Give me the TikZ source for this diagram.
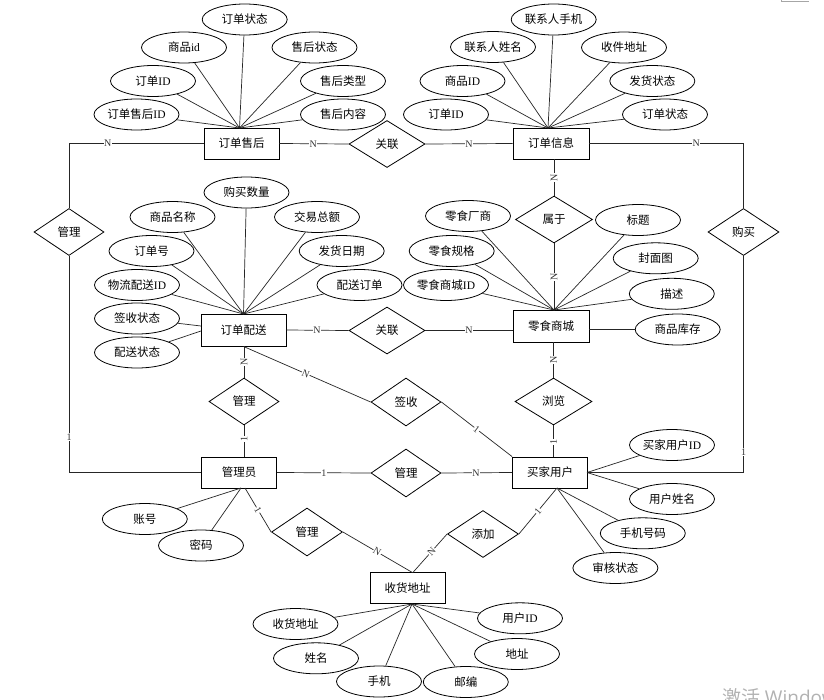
\documentclass[tikz,border=0pt]{standalone}
\usepackage{fontspec}
\setmainfont{Liberation Serif}
\newfontfamily\cjk{Noto Sans CJK SC}
\newfontfamily\wmfont{Open Sans}
\usetikzlibrary{shapes.geometric}
\newcommand\lat[1]{{\rmfamily #1}}
\begin{document}
\begin{tikzpicture}[x=1pt,y=-1pt,
  zh/.style={font=\cjk\fontsize{11.5}{13}\selectfont},
  attr/.style={zh,ellipse,draw=black,line width=0.8pt,inner sep=0pt,minimum width=85pt,minimum height=31pt},
  ent/.style={zh,rectangle,draw=black,line width=0.9pt,inner sep=0pt,minimum width=75pt,minimum height=31pt},
  rel/.style={zh,diamond,draw=black,line width=0.8pt,inner sep=0pt,minimum width=71pt,minimum height=47pt},
  conn/.style={draw=black!85,line width=0.7pt},
  card/.style={fill=white,inner sep=0.5pt,text=black!80,font=\rmfamily\fontsize{10}{10}\selectfont}
]
\clip (0,0) rectangle (824,699);
\fill[white] (0,0) rectangle (824,699);

% entities
\node[ent] (sh) at (241.5,143.5) {订单售后};
\node[ent,minimum width=76pt] (xx) at (551,143.5) {订单信息};
\node[ent,minimum width=85pt,minimum height=32pt] (ps) at (243.5,330) {订单配送};
\node[ent,minimum width=76pt,minimum height=32pt] (sc) at (551,326) {零食商城};
\node[ent] (gl) at (239,472.5) {管理员};
\node[ent] (mj) at (550,472.5) {买家用户};
\node[ent] (dz) at (407.5,588) {收货地址};

% relationships
\node[rel,minimum width=76pt] (r1) at (387,144) {关联};
\node[rel,minimum width=70pt] (r2) at (69,232) {管理};
\node[rel,minimum width=77pt] (r3) at (554,219.5) {属于};
\node[rel] (r4) at (743.5,232) {购买};
\node[rel,minimum width=76pt] (r5) at (387,330.5) {关联};
\node[rel,minimum width=70pt] (r6) at (244,401.5) {管理};
\node[rel,minimum width=70pt,minimum height=48pt] (r7) at (406,402) {签收};
\node[rel,minimum width=77pt] (r8) at (553.5,401.5) {浏览};
\node[rel,minimum width=70pt,minimum height=48pt] (r9) at (406,473) {管理};
\node[rel,minimum height=48pt] (r10) at (307,532) {管理};
\node[rel] (r11) at (483,534) {添加};

% attributes of 订单售后
\node[attr] (a11) at (244.7,19.5) {订单状态};
\node[attr] (a12) at (184,47.5) {商品\lat{id}};
\node[attr] (a13) at (314.5,47.5) {售后状态};
\node[attr] (a14) at (153,81) {订单\lat{ID}};
\node[attr] (a15) at (343,81) {售后类型};
\node[attr] (a16) at (136.5,114.5) {订单售后\lat{ID}};
\node[attr] (a17) at (343,114.5) {售后内容};
% attributes of 订单信息
\node[attr] (a21) at (553.7,19.5) {联系人手机};
\node[attr] (a22) at (493,47) {联系人姓名};
\node[attr] (a23) at (624,47.5) {收件地址};
\node[attr] (a24) at (462.5,81) {商品\lat{ID}};
\node[attr] (a25) at (652.3,81) {发货状态};
\node[attr] (a26) at (446,114.5) {订单\lat{ID}};
\node[attr] (a27) at (665,114.5) {订单状态};
% attributes of 订单配送
\node[attr] (a31) at (246.5,192.5) {购买数量};
\node[attr] (a32) at (172.5,217) {商品名称};
\node[attr] (a33) at (317,217) {交易总额};
\node[attr] (a34) at (151.5,251) {订单号};
\node[attr] (a35) at (341.7,251) {发货日期};
\node[attr] (a36) at (137,285) {物流配送\lat{ID}};
\node[attr] (a37) at (359.5,285) {配送订单};
\node[attr] (a38) at (137,318.5) {签收状态};
\node[attr] (a39) at (137,352.5) {配送状态};
% attributes of 零食商城
\node[attr] (a41) at (468,216) {零食厂商};
\node[attr] (a42) at (638,220) {标题};
\node[attr] (a43) at (451.7,251) {零食规格};
\node[attr] (a44) at (655.7,258.3) {封面图};
\node[attr] (a45) at (446,285) {零食商城\lat{ID}};
\node[attr] (a46) at (671.8,293.8) {描述};
\node[attr] (a47) at (677.7,329.5) {商品库存};
% attributes of 管理员
\node[attr] (a51) at (144.8,519) {账号};
\node[attr] (a52) at (201,545.5) {密码};
% attributes of 买家用户
\node[attr] (a61) at (672,445) {买家用户\lat{ID}};
\node[attr] (a62) at (672,499) {用户姓名};
\node[attr] (a63) at (642.8,533.3) {手机号码};
\node[attr] (a64) at (615.4,568) {审核状态};
% attributes of 收货地址
\node[attr] (a71) at (295.5,624) {收货地址};
\node[attr] (a72) at (520,618.3) {用户\lat{ID}};
\node[attr] (a73) at (316,658.3) {姓名};
\node[attr] (a74) at (517,654) {地址};
\node[attr] (a75) at (379,681.5) {手机};
\node[attr] (a76) at (465.8,682) {邮编};

% convergence points
\coordinate (p1) at (239.5,128);
\coordinate (p2) at (548,128);
\coordinate (p3) at (243.5,314);
\coordinate (p4) at (554,310);
\coordinate (p5) at (241,488);
\coordinate (p5b) at (245,488);
\coordinate (p6r) at (587,472.5);
\coordinate (p6b) at (557,488);
\coordinate (p7) at (412,604);
\coordinate (q1) at (201,326);
\coordinate (q2) at (201,331);

% attribute lines
\foreach \a in {a11,a12,a13,a14,a15,a16,a17} \draw[conn] (\a) -- (p1);
\foreach \a in {a21,a22,a23,a24,a25,a26,a27} \draw[conn] (\a) -- (p2);
\foreach \a in {a31,a32,a33,a34,a35,a36,a37} \draw[conn] (\a) -- (p3);
\draw[conn] (a38) -- (q1);
\draw[conn] (a39) -- (q2);
\foreach \a in {a41,a42,a43,a44,a45,a46} \draw[conn] (\a) -- (p4);
\draw[conn] (sc.east |- a47.west) -- (a47.west);
\foreach \a in {a51,a52} \draw[conn] (\a) -- (p5);
\foreach \a in {a61,a62} \draw[conn] (\a) -- (p6r);
\foreach \a in {a63,a64} \draw[conn] (\a) -- (p6b);
\foreach \a in {a71,a72,a73,a74,a75,a76} \draw[conn] (\a) -- (p7);

% relationship connectors
\coordinate (c1) at (69,143.5);
\coordinate (c2) at (69,472.5);
\coordinate (c3) at (743.5,143.5);
\coordinate (c4) at (743.5,472.5);
\coordinate (dzt) at (412.7,572.7);

\draw[conn] (sh.east) -- node[card,pos=0.49]{N} (r1.west);
\draw[conn] (r1.east) -- node[card,pos=0.5]{N} (xx.west);
\draw[conn] (sh.west) -- node[card,pos=0.713]{N} (c1) -- (r2.north);
\draw[conn] (r2.south) -- node[card,pos=0.836]{1} (c2) -- (gl.west);
\draw[conn] (xx.east) -- node[card,pos=0.693]{N} (c3) -- (r4.north);
\draw[conn] (r4.south) -- node[card,pos=0.906]{1} (c4) -- (mj.east);
\draw[conn] (r3.north |- xx.south) -- node[card,pos=0.5,rotate=90]{N} (r3.north);
\draw[conn] (r3.south) -- node[card,pos=0.5,rotate=90]{N} (p4);
\draw[conn] (ps.east) -- node[card,pos=0.49]{N} (r5.west);
\draw[conn] (r5.east) -- node[card,pos=0.5]{N} (r5.east -| sc.west);
\draw[conn] (r6.north |- ps.south) -- node[card,pos=0.5,rotate=90]{N} (r6.north);
\draw[conn] (r6.south) -- node[card,pos=0.44,rotate=90]{1} (r6.south |- gl.north);
\draw[conn] (ps.south) -- node[card,pos=0.49,sloped]{N} (r7.west);
\draw[conn] (r7.east) -- node[card,pos=0.5,sloped]{1} (mj.north west);
\draw[conn] (r8.north |- sc.south) -- node[card,pos=0.5,rotate=90]{N} (r8.north);
\draw[conn] (r8.south) -- node[card,pos=0.52,rotate=90]{1} (r8.south |- mj.north);
\draw[conn] (gl.east) -- node[card,pos=0.5]{1} (r9.west);
\draw[conn] (r9.east) -- node[card,pos=0.49]{N} (mj.west);
\draw[conn] (p5b) -- node[card,pos=0.5,sloped]{1} (r10.west);
\draw[conn] (r10.east) -- node[card,pos=0.49,sloped]{N} (dzt);
\draw[conn] (p6b) -- node[card,pos=0.5,sloped]{1} (r11.east);
\draw[conn] (r11.west) -- node[card,pos=0.45,sloped]{N} (dzt);

% small mark at the top right and the watermark
\draw[black!35,line width=0.7pt] (781,0) -- (781,1.5) -- (809,1.5);
\node[anchor=north west,inner sep=0pt,text=black!30,font=\fontsize{19}{20}\selectfont] (wm) at (722,688) {{\cjk 激活} \wmfont Windows};
\end{tikzpicture}
\end{document}
